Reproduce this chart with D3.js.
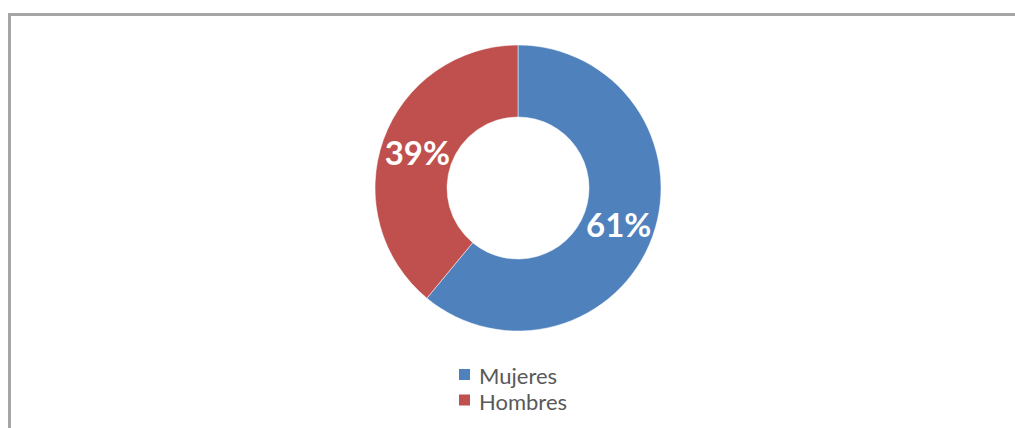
<!DOCTYPE html>
<html>
<head>
<meta charset="utf-8">
<script src="https://cdn.jsdelivr.net/npm/d3@7"></script>
<style>
  html, body { margin: 0; padding: 0; background: #fff; }
  svg { display: block; }
</style>
</head>
<body>
<svg id="chart" width="1015" height="428"></svg>
<script>
// Gender share
const categories = ["Mujeres", "Hombres"];
const values = [61, 39];
const colors = ["#4F81BD", "#C0504D"];

const svg = d3.select("#chart");

// Chart frame (top and left edges visible)
svg.append("path")
  .attr("d", "M9.5,440 L9.5,14.5 L1020,14.5")
  .attr("fill", "none")
  .attr("stroke", "#A5A5A5")
  .attr("stroke-width", 3);

const cx = 518, cy = 188, outerR = 143, innerR = 71;

const pie = d3.pie().sort(null).value(d => d.value);
const arcs = pie(categories.map((c, i) => ({ name: c, value: values[i], color: colors[i] })));

const arc = d3.arc().innerRadius(innerR).outerRadius(outerR);
const labelArc = d3.arc().innerRadius((innerR + outerR) / 2).outerRadius((innerR + outerR) / 2);

const g = svg.append("g").attr("transform", `translate(${cx},${cy})`);

g.selectAll("path.slice")
  .data(arcs)
  .join("path")
  .attr("class", "slice")
  .attr("d", arc)
  .attr("fill", d => d.data.color)
  .attr("stroke", "#fff")
  .attr("stroke-width", 0.5);

const total = d3.sum(values);
g.selectAll("text.lbl")
  .data(arcs)
  .join("text")
  .attr("class", "lbl")
  .attr("transform", d => `translate(${labelArc.centroid(d)})`)
  .attr("text-anchor", "middle")
  .attr("dominant-baseline", "central")
  .attr("font-family", "Lato, 'Open Sans', sans-serif")
  .attr("font-weight", "bold")
  .attr("font-size", 33)
  .attr("fill", "#fff")
  .text(d => Math.round(d.data.value / total * 100) + "%");

// Legend
const legend = svg.append("g").attr("transform", "translate(459,369)");
const items = legend.selectAll("g")
  .data(categories)
  .join("g")
  .attr("transform", (d, i) => `translate(0,${i * 25.5})`);

items.append("rect")
  .attr("width", 11)
  .attr("height", 11)
  .attr("fill", (d, i) => colors[i]);

items.append("text")
  .attr("x", 20)
  .attr("y", 6.5)
  .attr("dominant-baseline", "central")
  .attr("font-family", "Lato, 'Open Sans', sans-serif")
  .attr("font-size", 22)
  .attr("fill", "#595959")
  .text(d => d);
</script>
</body>
</html>
